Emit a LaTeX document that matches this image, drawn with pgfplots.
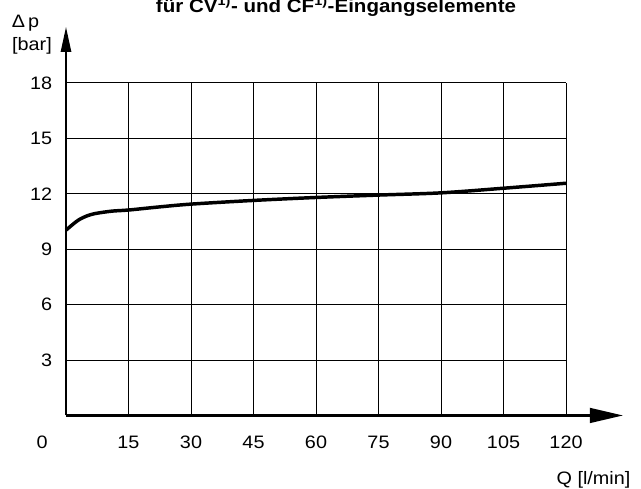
\documentclass[border=0pt]{standalone}
\usepackage{pgfplots}
\pgfplotsset{compat=1.18}
\usepackage{fontspec}
\setmainfont[FakeStretch=1.1]{Liberation Sans}
\usetikzlibrary{arrows.meta}
\begin{document}
\begin{tikzpicture}
\clip (-49.5pt,-54.4pt) rectangle (431.25pt,311.6pt);
\begin{axis}[
  at={(0pt,0pt)}, anchor=origin,
  scale only axis, width=375pt, height=249.4pt,
  xmin=0, xmax=120, ymin=0, ymax=18,
  xtick={15,30,45,60,75,90,105,120},
  ytick={3,6,9,12,15,18},
  major tick length=0pt,
  grid=major,
  major grid style={black, line width=0.75pt},
  axis line style={draw=none},
  clip=false,
  /pgf/number format/assume math mode=true,
  tick label style={font=\fontsize{13.5}{16}\selectfont},
  xticklabel style={anchor=base, yshift=-24.4pt, inner sep=0pt},
  yticklabel style={anchor=east, xshift=-13.5pt+3.3pt, inner sep=0pt},
]
\addplot[black, line width=2.6pt, smooth, tension=0.5] coordinates {
(0,10.03) (1.4,10.3) (3,10.58) (5,10.8) (7,10.93) (11,11.06) (15,11.12)
(22,11.28) (30,11.44) (45,11.64) (60,11.8) (75,11.93) (90,12.05) (105,12.3) (120,12.57)
};
\draw[line width=2pt, -{Triangle[length=25pt,width=11pt]}] (axis cs:0,0) -- (axis cs:133.7,0);
\draw[line width=2pt, -{Triangle[length=19pt,width=7.5pt]}] (axis cs:0,0) -- (axis cs:0,21.05);
\end{axis}
\node[anchor=base east, inner sep=0pt, font=\fontsize{13.5}{16}\selectfont] at (-13.5pt,-24.4pt) {0};
\node[anchor=base, inner sep=0pt, font=\fontsize{13.5}{16}\selectfont] at (-30.4pt,291pt) {Δ\,p};
\node[anchor=base, inner sep=0pt, font=\fontsize{13.5}{16}\selectfont] at (-25.5pt,273.75pt) {[bar]};
\node[anchor=base, inner sep=0pt, font=\fontsize{13.5}{16}\selectfont] at (395.6pt,-51.4pt) {Q [l/min]};
\node[anchor=base, inner sep=0pt, font=\bfseries\fontsize{14}{16}\selectfont] at (202.5pt,301.9pt) {für CV\textsuperscript{1)}- und CF\textsuperscript{1)}-Eingangselemente};
\end{tikzpicture}
\end{document}
